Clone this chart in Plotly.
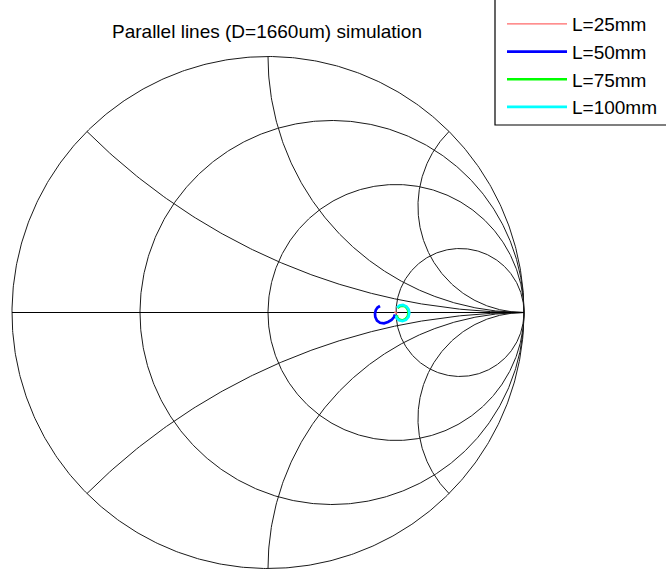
import numpy as np
import plotly.graph_objects as go

# ---- data: reflection coefficient (real, imag) for each line length ----
red_re = [0.4934, 0.4992, 0.5051]
red_im = [0.0027, -0.0004, -0.0031]

blue_re = [0.4961, 0.4922, 0.4824, 0.4688, 0.4531, 0.4375, 0.4258, 0.4191, 0.4180, 0.4211, 0.4277, 0.4375]
blue_im = [-0.0078, -0.0176, -0.0293, -0.0371, -0.0422, -0.0402, -0.0313, -0.0176, -0.0039, 0.0098, 0.0195, 0.0254]

green_re = [0.506, 0.515, 0.527, 0.539, 0.547, 0.549, 0.546, 0.537, 0.525, 0.513, 0.505, 0.503]
green_im = [0.018, 0.025, 0.027, 0.022, 0.011, -0.002, -0.016, -0.026, -0.031, -0.028, -0.021, -0.011]

cyan_re = [0.5039, 0.5137, 0.5273, 0.5410, 0.5496, 0.5520, 0.5488, 0.5391, 0.5254, 0.5117, 0.5027, 0.5000]
cyan_im = [0.0195, 0.0273, 0.0293, 0.0234, 0.0117, -0.0020, -0.0168, -0.0285, -0.0332, -0.0305, -0.0227, -0.0117]

series_names = ["L=25mm", "L=50mm", "L=75mm", "L=100mm"]
title_text = "Parallel lines (D=1660um) simulation"

# Smith chart grid values
r_values = [0.0, 1 / 3, 1.0, 3.0]
x_values = [np.tan(np.pi / 8), 1.0, 1 / np.tan(np.pi / 8)]

FONT = "Liberation Sans, Arial, sans-serif"
GRID = "#1a1a1a"

fig = go.Figure()

# resistance circles
t = np.linspace(0, 2 * np.pi, 721)
for r in r_values:
    c = r / (1 + r)
    rad = 1 / (1 + r)
    fig.add_trace(go.Scatter(x=c + rad * np.cos(t), y=rad * np.sin(t), mode="lines",
                             line=dict(color=GRID, width=1), hoverinfo="skip", showlegend=False))

# reactance arcs
rr = np.concatenate([np.linspace(0, 5, 400), np.logspace(np.log10(5.01), 5, 400)])
for xv in x_values:
    for s in (1, -1):
        z = rr + 1j * s * xv
        g = (z - 1) / (z + 1)
        fig.add_trace(go.Scatter(x=g.real, y=g.imag, mode="lines",
                                 line=dict(color=GRID, width=1), hoverinfo="skip", showlegend=False))

# real axis
fig.add_trace(go.Scatter(x=[-1, 1], y=[0, 0], mode="lines",
                         line=dict(color="black", width=1), hoverinfo="skip", showlegend=False))

# data series
series = [
    (red_re, red_im, "rgb(255,105,105)", 1.4),
    (blue_re, blue_im, "#0000ff", 2.7),
    (green_re, green_im, "#00ff00", 2.7),
    (cyan_re, cyan_im, "#00ffff", 2.7),
]
for name, (xs, ys, col, w) in zip(series_names, series):
    fig.add_trace(go.Scatter(x=xs, y=ys, mode="lines", name=name,
                             line=dict(color=col, width=w)))

W, H = 666, 570
cx, cy, R = 268, 312.5, 256

fig.update_layout(
    width=W, height=H,
    margin=dict(l=0, r=0, t=0, b=0),
    paper_bgcolor="white", plot_bgcolor="white",
    xaxis=dict(range=[-cx / R, (W - cx) / R], visible=False, fixedrange=True),
    yaxis=dict(range=[-(H - cy) / R, cy / R], visible=False, fixedrange=True),
    title=dict(text=title_text, x=267 / W, xanchor="center", y=1 - 31 / H, yanchor="middle",
               font=dict(family=FONT, size=19, color="black")),
    font=dict(family=FONT, color="black"),
    showlegend=True,
    legend=dict(x=502 / W, xanchor="left", y=1 - 5 / H, yanchor="top", bgcolor="rgba(0,0,0,0)",
                borderwidth=0, font=dict(family=FONT, size=19, color="black"),
                itemwidth=60, tracegroupgap=0),
    shapes=[dict(type="rect", xref="paper", yref="paper", x0=495 / W, x1=1.05,
                 y0=1 - 125 / H, y1=1.05, line=dict(color="black", width=1.2),
                 fillcolor="white", layer="below")],
)

fig.write_html("out.html", config={"displayModeBar": False},
               post_script="document.body.style.margin='0';")
